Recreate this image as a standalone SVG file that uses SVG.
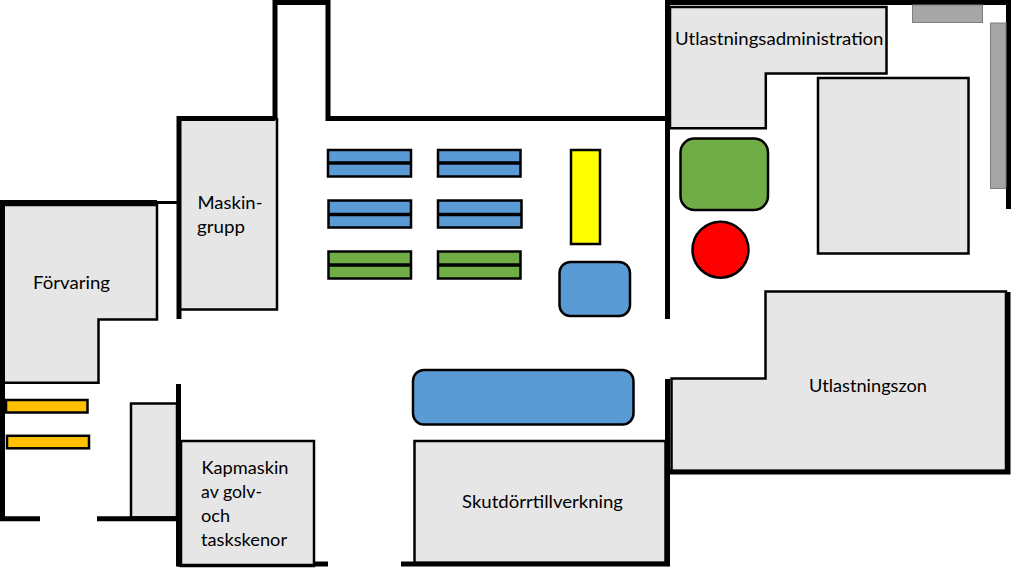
<svg xmlns="http://www.w3.org/2000/svg" width="1024" height="575" viewBox="0 0 1024 575">
<style>
.room{fill:#e6e6e6;stroke:#000;stroke-width:2.5}
.blue{fill:#5b9bd5;stroke:#000;stroke-width:2.5}
.green{fill:#70ad47;stroke:#000;stroke-width:2.5}
.orange{fill:#ffc000;stroke:#000;stroke-width:2.5}
.gray{fill:#a6a6a6;stroke:#7f7f7f;stroke-width:1}
.bar{stroke:#000;stroke-width:3.5}
.wall{fill:none;stroke:#000;stroke-width:5}
.wall-thick{fill:none;stroke:#000;stroke-width:6}
.wall-thin{fill:none;stroke:#000;stroke-width:3}
text{font-family:"Lato","Open Sans","Liberation Sans",sans-serif;font-size:17px;fill:#000}
</style>
<rect width="1024" height="575" fill="#fff"/>
<g id="rooms">
<g id="maskingrupp"><rect class="room" x="179" y="119" width="98" height="190.500"/><text x="197.500" y="209" textLength="65" lengthAdjust="spacingAndGlyphs">Maskin-</text><text x="197" y="233" textLength="48" lengthAdjust="spacingAndGlyphs">grupp</text></g>
<g id="forvaring"><polygon class="room" points="3,205 157,205 157,319.500 98.500,319.500 98.500,382.800 3,382.800"/><text x="33" y="289" textLength="77" lengthAdjust="spacingAndGlyphs">Förvaring</text></g>
<g id="liten-yta"><rect class="room" x="131" y="403.500" width="46" height="114"/></g>
<g id="kapmaskin"><rect class="room" x="181" y="441" width="133" height="125"/><text x="201.500" y="474" textLength="87" lengthAdjust="spacingAndGlyphs">Kapmaskin</text><text x="201" y="498" textLength="61" lengthAdjust="spacingAndGlyphs">av golv-</text><text x="201" y="522" textLength="29" lengthAdjust="spacingAndGlyphs">och</text><text x="201" y="546" textLength="86" lengthAdjust="spacingAndGlyphs">taskskenor</text></g>
<g id="utlastningsadministration"><polygon class="room" points="670,7 886.500,7 886.500,73.500 765.800,73.500 765.800,128.300 670,128.300"/><text x="675" y="45" textLength="208.500" lengthAdjust="spacingAndGlyphs">Utlastningsadministration</text></g>
<g id="stor-yta"><rect class="room" x="818" y="78" width="150.500" height="175.500"/></g>
<g id="utlastningszon"><polygon class="room" points="671.500,378.500 765.500,378.500 765.500,291.500 1006,291.500 1006,471 671.500,471"/><text x="809" y="392" textLength="118" lengthAdjust="spacingAndGlyphs">Utlastningszon</text></g>
<g id="skutdorrtillverkning"><rect class="room" x="414.500" y="441" width="251" height="122"/><text x="462" y="508" textLength="161" lengthAdjust="spacingAndGlyphs">Skutdörrtillverkning</text></g>
</g>
<g id="walls">
<path class="wall" d="M275,118V2.500H328V118.500H667"/>
<path class="wall" d="M179,319V118.500H275"/>
<path class="wall-thick" d="M0,203H157"/>
<path class="wall-thin" d="M157,202.500H178"/>
<path class="wall" d="M2.500,203V518.800H40"/>
<path class="wall" d="M97,518.800H178"/>
<path class="wall" d="M178.500,384V566.500"/>
<path class="wall-thin" d="M314,565.200H178"/>
<path class="wall" d="M314,564H328"/>
<path class="wall" d="M667.500,0V319"/>
<path class="wall" d="M665,2.500H1008.500V209"/>
<path class="wall" d="M667.500,379V566"/>
<path class="wall" d="M401,564H670"/>
<path class="wall" d="M1008,292V472H665"/>
</g>
<g id="lager-orange">
<rect class="orange" x="6" y="400" width="81.500" height="12.500"/>
<rect class="orange" x="7" y="435.800" width="82" height="12.500"/>
</g>
<g id="hyllor">
<g id="hylla-1"><rect class="blue" x="328" y="150" width="83" height="26.500"/><path class="bar" d="M328,163H411"/></g>
<g id="hylla-2"><rect class="blue" x="438" y="150" width="82.500" height="26.500"/><path class="bar" d="M438,163H520.500"/></g>
<g id="hylla-3"><rect class="blue" x="328.500" y="200.500" width="82.500" height="27"/><path class="bar" d="M328.500,214.500H411"/></g>
<g id="hylla-4"><rect class="blue" x="438" y="200.500" width="83.500" height="27"/><path class="bar" d="M438,214.500H521.500"/></g>
<g id="hylla-5"><rect class="green" x="328.500" y="251.500" width="82.500" height="27"/><path class="bar" d="M328.500,265H411"/></g>
<g id="hylla-6"><rect class="green" x="438" y="251.500" width="82.500" height="27"/><path class="bar" d="M438,265H520.500"/></g>
</g>
<g id="maskiner">
<rect id="gul" x="571" y="150" width="29" height="94" fill="#ffff00" stroke="#000" stroke-width="2.500"/>
<rect id="bla-liten" class="blue" x="559.500" y="262" width="70.500" height="54" rx="11"/>
<rect id="bla-stor" class="blue" x="413" y="370" width="220.500" height="54.500" rx="11"/>
<rect id="gron" class="green" x="680.500" y="138.500" width="87.500" height="71.500" rx="14"/>
<circle id="rod" cx="720.500" cy="249.700" r="28" fill="#ff0000" stroke="#000" stroke-width="2.500"/>
<rect id="gra-1" class="gray" x="912.500" y="5" width="70" height="17.500"/>
<rect id="gra-2" class="gray" x="990.500" y="23" width="15.500" height="165.500"/>
</g>
</svg>
